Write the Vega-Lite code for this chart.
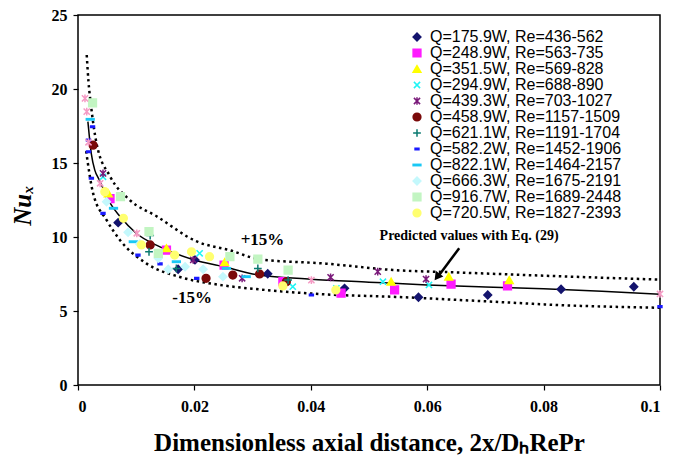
{
  "$schema": "https://vega.github.io/schema/vega-lite/v6.json",
  "width": 582,
  "height": 370,
  "autosize": {"type": "none"},
  "padding": {"left": 78, "top": 15, "right": 16, "bottom": 74},
  "background": "white",
  "config": {
    "view": {"stroke": "black", "strokeWidth": 1.5},
    "axis": {"grid": false, "domain": false, "ticks": true, "tickColor": "black", "tickSize": 5, "tickWidth": 1.2,
      "labelFont": "Liberation Serif", "labelFontWeight": "bold", "labelFontSize": 16, "labelColor": "black",
      "titleFont": "Liberation Serif", "titleFontWeight": "bold", "titleColor": "black"},
    "legend": {"padding": 0, "rowPadding": 0, "labelFontSize": 16, "labelFont": "Liberation Sans", "symbolSize": 60, "labelOffset": 5, "labelLimit": 400, "symbolStrokeWidth": 1.5, "symbolOpacity": 1, "labelColor": "black"}
  },
  "encoding": {
    "x": {"field": "x", "type": "quantitative",
      "scale": {"domain": [0, 0.1], "nice": false, "zero": false},
      "axis": {"values": [0, 0.02, 0.04, 0.06, 0.08, 0.1], "format": "~g", "labelPadding": 8,
        "title": "Dimensionless axial distance, 2x/DₕRePr", "titleFontSize": 25, "titlePadding": 16}},
    "y": {"field": "y", "type": "quantitative",
      "scale": {"domain": [0, 25], "nice": false},
      "axis": {"values": [0, 5, 10, 15, 20, 25], "labelPadding": 6,
        "title": "Nuₓ", "titleFontSize": 25, "titleFontStyle": "italic", "titleX": -56, "titleY": 190, "titleBaseline": "middle", "titleAngle": -90}}
  },
  "layer": [
    {
      "data": {"values": [
        {"x": 0.0015, "y": 22.3}, {"x": 0.0018, "y": 20.5}, {"x": 0.0022, "y": 19.0}, {"x": 0.0032, "y": 16.3},
        {"x": 0.0055, "y": 14.1}, {"x": 0.0089, "y": 12.5}, {"x": 0.0135, "y": 11.4}, {"x": 0.0204, "y": 9.7},
        {"x": 0.0261, "y": 9.1}, {"x": 0.0312, "y": 8.5}, {"x": 0.0426, "y": 8.2}, {"x": 0.0541, "y": 7.77},
        {"x": 0.0655, "y": 7.6}, {"x": 0.077, "y": 7.43}, {"x": 0.0884, "y": 7.27}, {"x": 0.1, "y": 7.12}
      ]},
      "mark": {"type": "line", "color": "black", "strokeWidth": 2.5, "strokeDash": [2.5, 3.5], "interpolate": "monotone"}
    },
    {
      "data": {"values": [
        {"x": 0.0014, "y": 15.8}, {"x": 0.0026, "y": 12.95}, {"x": 0.0049, "y": 11.15}, {"x": 0.0072, "y": 9.8},
        {"x": 0.0118, "y": 8.2}, {"x": 0.0175, "y": 7.3}, {"x": 0.0244, "y": 6.76}, {"x": 0.0312, "y": 6.46},
        {"x": 0.0426, "y": 6.12}, {"x": 0.0541, "y": 5.96}, {"x": 0.0712, "y": 5.63}, {"x": 0.0827, "y": 5.4},
        {"x": 0.1, "y": 5.22}
      ]},
      "mark": {"type": "line", "color": "black", "strokeWidth": 2.5, "strokeDash": [2.5, 3.5], "interpolate": "monotone"}
    },
    {
      "data": {"values": [
        {"x": 0.0017, "y": 17.8}, {"x": 0.002, "y": 16.6}, {"x": 0.0023, "y": 15.6}, {"x": 0.0029, "y": 14.5},
        {"x": 0.0036, "y": 13.9}, {"x": 0.0043, "y": 13.3}, {"x": 0.0055, "y": 12.3}, {"x": 0.0072, "y": 11.4},
        {"x": 0.01, "y": 10.25}, {"x": 0.014, "y": 9.35}, {"x": 0.02, "y": 8.45}, {"x": 0.025, "y": 8.0},
        {"x": 0.03, "y": 7.5}, {"x": 0.04, "y": 7.15}, {"x": 0.05, "y": 6.95}, {"x": 0.06, "y": 6.76},
        {"x": 0.07, "y": 6.62}, {"x": 0.08, "y": 6.5}, {"x": 0.09, "y": 6.34}, {"x": 0.1, "y": 6.13}
      ]},
      "mark": {"type": "line", "color": "black", "strokeWidth": 1.5, "interpolate": "monotone"}
    },
    {
      "data": {"values": [
        {"s": "Q=175.9W, Re=436-562", "x": 0.0069, "y": 10.97},
        {"s": "Q=175.9W, Re=436-562", "x": 0.0172, "y": 7.82},
        {"s": "Q=175.9W, Re=436-562", "x": 0.0201, "y": 8.45},
        {"s": "Q=175.9W, Re=436-562", "x": 0.0326, "y": 7.52},
        {"s": "Q=175.9W, Re=436-562", "x": 0.0458, "y": 6.53},
        {"s": "Q=175.9W, Re=436-562", "x": 0.0585, "y": 5.93},
        {"s": "Q=175.9W, Re=436-562", "x": 0.0704, "y": 6.08},
        {"s": "Q=175.9W, Re=436-562", "x": 0.083, "y": 6.47},
        {"s": "Q=175.9W, Re=436-562", "x": 0.0955, "y": 6.64},
        {"s": "Q=248.9W, Re=563-735", "x": 0.0055, "y": 12.6},
        {"s": "Q=248.9W, Re=563-735", "x": 0.0152, "y": 9.12},
        {"s": "Q=248.9W, Re=563-735", "x": 0.0251, "y": 8.1},
        {"s": "Q=248.9W, Re=563-735", "x": 0.0352, "y": 6.98},
        {"s": "Q=248.9W, Re=563-735", "x": 0.0452, "y": 6.2},
        {"s": "Q=248.9W, Re=563-735", "x": 0.0544, "y": 6.42},
        {"s": "Q=248.9W, Re=563-735", "x": 0.0641, "y": 6.82},
        {"s": "Q=248.9W, Re=563-735", "x": 0.0738, "y": 6.69},
        {"s": "Q=351.5W, Re=569-828", "x": 0.0052, "y": 12.95},
        {"s": "Q=351.5W, Re=569-828", "x": 0.0152, "y": 9.24},
        {"s": "Q=351.5W, Re=569-828", "x": 0.0252, "y": 8.3},
        {"s": "Q=351.5W, Re=569-828", "x": 0.0538, "y": 6.98},
        {"s": "Q=351.5W, Re=569-828", "x": 0.0637, "y": 7.32},
        {"s": "Q=351.5W, Re=569-828", "x": 0.0741, "y": 7.09},
        {"s": "Q=294.9W, Re=688-890", "x": 0.0043, "y": 14.07},
        {"s": "Q=294.9W, Re=688-890", "x": 0.0209, "y": 8.9},
        {"s": "Q=294.9W, Re=688-890", "x": 0.0369, "y": 6.64},
        {"s": "Q=294.9W, Re=688-890", "x": 0.0444, "y": 6.53},
        {"s": "Q=294.9W, Re=688-890", "x": 0.0524, "y": 6.98},
        {"s": "Q=294.9W, Re=688-890", "x": 0.0603, "y": 6.76},
        {"s": "Q=439.3W, Re=703-1027", "x": 0.0043, "y": 14.3},
        {"s": "Q=439.3W, Re=703-1027", "x": 0.0198, "y": 8.45},
        {"s": "Q=439.3W, Re=703-1027", "x": 0.0282, "y": 7.21},
        {"s": "Q=439.3W, Re=703-1027", "x": 0.0434, "y": 7.28},
        {"s": "Q=439.3W, Re=703-1027", "x": 0.0515, "y": 7.66},
        {"s": "Q=439.3W, Re=703-1027", "x": 0.0598, "y": 7.16},
        {"s": "Q=458.9W, Re=1157-1509", "x": 0.0026, "y": 16.2},
        {"s": "Q=458.9W, Re=1157-1509", "x": 0.0124, "y": 9.46},
        {"s": "Q=458.9W, Re=1157-1509", "x": 0.022, "y": 7.21},
        {"s": "Q=458.9W, Re=1157-1509", "x": 0.0266, "y": 7.43},
        {"s": "Q=458.9W, Re=1157-1509", "x": 0.0312, "y": 7.5},
        {"s": "Q=458.9W, Re=1157-1509", "x": 0.0358, "y": 6.98},
        {"s": "Q=621.1W, Re=1191-1704", "x": 0.0124, "y": 10.1},
        {"s": "Q=621.1W, Re=1191-1704", "x": 0.0122, "y": 9.0},
        {"s": "Q=621.1W, Re=1191-1704", "x": 0.0169, "y": 7.88},
        {"s": "Q=621.1W, Re=1191-1704", "x": 0.0309, "y": 7.88},
        {"s": "Q=621.1W, Re=1191-1704", "x": 0.0361, "y": 7.09},
        {"s": "Q=582.2W, Re=1452-1906", "x": 0.0025, "y": 17.45},
        {"s": "Q=582.2W, Re=1452-1906", "x": 0.0018, "y": 16.55},
        {"s": "Q=582.2W, Re=1452-1906", "x": 0.0018, "y": 15.76},
        {"s": "Q=582.2W, Re=1452-1906", "x": 0.0023, "y": 13.97},
        {"s": "Q=582.2W, Re=1452-1906", "x": 0.0043, "y": 11.6},
        {"s": "Q=582.2W, Re=1452-1906", "x": 0.0103, "y": 8.78},
        {"s": "Q=582.2W, Re=1452-1906", "x": 0.0141, "y": 8.18},
        {"s": "Q=582.2W, Re=1452-1906", "x": 0.0204, "y": 7.21},
        {"s": "Q=582.2W, Re=1452-1906", "x": 0.0401, "y": 6.08},
        {"s": "Q=582.2W, Re=1452-1906", "x": 0.1, "y": 5.29},
        {"s": "Q=822.1W, Re=1464-2157", "x": 0.0021, "y": 17.95},
        {"s": "Q=822.1W, Re=1464-2157", "x": 0.0061, "y": 11.94},
        {"s": "Q=822.1W, Re=1464-2157", "x": 0.0095, "y": 9.68},
        {"s": "Q=822.1W, Re=1464-2157", "x": 0.0169, "y": 8.33},
        {"s": "Q=822.1W, Re=1464-2157", "x": 0.0255, "y": 7.88},
        {"s": "Q=822.1W, Re=1464-2157", "x": 0.0289, "y": 7.32},
        {"s": "Q=666.3W, Re=1675-2191", "x": 0.0049, "y": 12.38},
        {"s": "Q=666.3W, Re=1675-2191", "x": 0.0086, "y": 10.32},
        {"s": "Q=666.3W, Re=1675-2191", "x": 0.0106, "y": 9.53},
        {"s": "Q=666.3W, Re=1675-2191", "x": 0.0138, "y": 8.56},
        {"s": "Q=666.3W, Re=1675-2191", "x": 0.0155, "y": 7.82},
        {"s": "Q=666.3W, Re=1675-2191", "x": 0.0184, "y": 7.99},
        {"s": "Q=666.3W, Re=1675-2191", "x": 0.0215, "y": 7.82},
        {"s": "Q=666.3W, Re=1675-2191", "x": 0.0249, "y": 7.32},
        {"s": "Q=916.7W, Re=1689-2448", "x": 0.0025, "y": 19.07},
        {"s": "Q=916.7W, Re=1689-2448", "x": 0.0073, "y": 12.72},
        {"s": "Q=916.7W, Re=1689-2448", "x": 0.0122, "y": 10.36},
        {"s": "Q=916.7W, Re=1689-2448", "x": 0.0138, "y": 8.9},
        {"s": "Q=916.7W, Re=1689-2448", "x": 0.0261, "y": 8.67},
        {"s": "Q=916.7W, Re=1689-2448", "x": 0.0309, "y": 8.51},
        {"s": "Q=916.7W, Re=1689-2448", "x": 0.0361, "y": 7.77},
        {"s": "Q=720.5W, Re=1827-2393", "x": 0.0046, "y": 13.06},
        {"s": "Q=720.5W, Re=1827-2393", "x": 0.0078, "y": 11.26},
        {"s": "Q=720.5W, Re=1827-2393", "x": 0.0109, "y": 9.46},
        {"s": "Q=720.5W, Re=1827-2393", "x": 0.0166, "y": 8.78},
        {"s": "Q=720.5W, Re=1827-2393", "x": 0.0195, "y": 9.0},
        {"s": "Q=720.5W, Re=1827-2393", "x": 0.0226, "y": 8.67},
        {"s": "Q=720.5W, Re=1827-2393", "x": 0.0352, "y": 6.69},
        {"s": "Q=720.5W, Re=1827-2393", "x": 0.0443, "y": 6.42}
      ]},
      "mark": {"type": "point", "filled": true, "size": 60, "strokeWidth": 1.5, "opacity": 1, "clip": false},
      "encoding": {
        "fill": {"field": "s", "type": "nominal",
          "scale": {"domain": ["Q=175.9W, Re=436-562", "Q=248.9W, Re=563-735", "Q=351.5W, Re=569-828", "Q=294.9W, Re=688-890", "Q=439.3W, Re=703-1027", "Q=458.9W, Re=1157-1509", "Q=621.1W, Re=1191-1704", "Q=582.2W, Re=1452-1906", "Q=822.1W, Re=1464-2157", "Q=666.3W, Re=1675-2191", "Q=916.7W, Re=1689-2448", "Q=720.5W, Re=1827-2393"],
            "range": ["#14146e", "#ff1aff", "#ffff00", "#1ff5f5", "#7a1a7a", "#7a0a0a", "#0a7a70", "#1a1aff", "#1ac8f5", "#c4f8fc", "#c2f5c2", "#ffff70"]},
          "legend": {"title": null, "orient": "none", "legendX": 331, "legendY": 14}},
        "stroke": {"field": "s", "type": "nominal",
          "scale": {"domain": ["Q=175.9W, Re=436-562", "Q=248.9W, Re=563-735", "Q=351.5W, Re=569-828", "Q=294.9W, Re=688-890", "Q=439.3W, Re=703-1027", "Q=458.9W, Re=1157-1509", "Q=621.1W, Re=1191-1704", "Q=582.2W, Re=1452-1906", "Q=822.1W, Re=1464-2157", "Q=666.3W, Re=1675-2191", "Q=916.7W, Re=1689-2448", "Q=720.5W, Re=1827-2393"],
            "range": ["#14146e", "#ff1aff", "#ffff00", "#1ff5f5", "#7a1a7a", "#7a0a0a", "#0a7a70", "#1a1aff", "#1ac8f5", "#c4f8fc", "#c2f5c2", "#ffff70"]},
          "legend": {"title": null, "orient": "none", "legendX": 331, "legendY": 14}},
        "shape": {"field": "s", "type": "nominal",
          "scale": {"domain": ["Q=175.9W, Re=436-562", "Q=248.9W, Re=563-735", "Q=351.5W, Re=569-828", "Q=294.9W, Re=688-890", "Q=439.3W, Re=703-1027", "Q=458.9W, Re=1157-1509", "Q=621.1W, Re=1191-1704", "Q=582.2W, Re=1452-1906", "Q=822.1W, Re=1464-2157", "Q=666.3W, Re=1675-2191", "Q=916.7W, Re=1689-2448", "Q=720.5W, Re=1827-2393"],
            "range": ["diamond", "square", "triangle-up", "M-0.8,-0.8L0.8,0.8M-0.8,0.8L0.8,-0.8", "M-0.8,-0.8L0.8,0.8M-0.8,0.8L0.8,-0.8M0,-1L0,1", "circle", "M-1,0L1,0M0,-1L0,1", "M-0.5,-0.22L0.5,-0.22L0.5,0.22L-0.5,0.22Z", "M-1,-0.18L1,-0.18L1,0.18L-1,0.18Z", "diamond", "square", "circle"]},
          "legend": {"title": null, "orient": "none", "legendX": 331, "legendY": 14}}
      }
    },
    {
      "data": {"values": [
        {"x": 0.0012, "y": 19.37}, {"x": 0.0015, "y": 18.47}, {"x": 0.0018, "y": 16.4}, {"x": 0.0038, "y": 13.63},
        {"x": 0.0101, "y": 10.25}, {"x": 0.0401, "y": 7.09}, {"x": 0.1, "y": 6.15}
      ]},
      "mark": {"type": "point", "shape": "M-0.8,-0.8L0.8,0.8M-0.8,0.8L0.8,-0.8M0,-1L0,1", "size": 60, "stroke": "#f59ac4", "strokeWidth": 1.5, "filled": false, "opacity": 1, "clip": false}
    },
    {
      "data": {"values": [{"x": 0.0655, "y": 9.24, "x2": 0.0618, "y2": 7.3}]},
      "mark": {"type": "rule", "color": "black", "strokeWidth": 2.5},
      "encoding": {"x2": {"field": "x2"}, "y2": {"field": "y2"}}
    },
    {
      "data": {"values": [{"x": 0.0617, "y": 7.3}]},
      "mark": {"type": "point", "shape": "triangle-up", "angle": 217, "size": 90, "filled": true, "color": "black", "opacity": 1}
    },
    {
      "data": {"values": [
        {"x": 0.0317, "y": 9.8, "t": "+15%", "fs": 17},
        {"x": 0.0196, "y": 5.88, "t": "-15%", "fs": 17},
        {"x": 0.0672, "y": 10.1, "t": "Predicted values with Eq. (29)", "fs": 14}
      ]},
      "mark": {"type": "text", "font": "Liberation Serif", "fontWeight": "bold", "color": "black", "align": "center", "baseline": "middle"},
      "encoding": {"text": {"field": "t"}, "size": {"field": "fs", "type": "quantitative", "scale": null}}
    }
  ]
}
